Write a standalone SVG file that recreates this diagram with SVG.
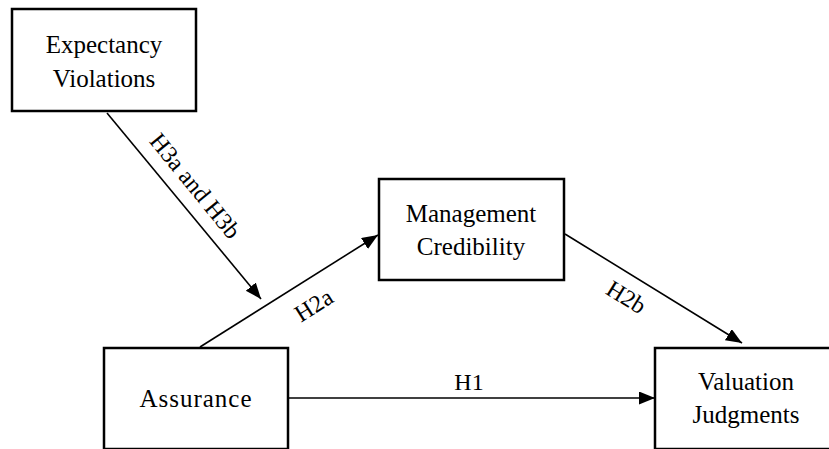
<svg xmlns="http://www.w3.org/2000/svg" width="829" height="449" viewBox="0 0 829 449">
<style>
.box{fill:#fff;stroke:#000;stroke-width:2.5}
.conn{stroke:#000;stroke-width:1.6;fill:none}
text{font-family:"Liberation Serif","Times New Roman",serif;font-size:25px;fill:#000}
.lbl{font-size:24px}
.c{text-anchor:middle}
</style>
<defs>
<marker id="arr" markerUnits="userSpaceOnUse" markerWidth="18" markerHeight="14" refX="16" refY="6.5" orient="auto">
<path d="M0,0 L16,6.5 L0,13 z" fill="#000"/>
</marker>
</defs>
<rect width="829" height="449" fill="#fff"/>
<g id="connectors">
<line class="conn" x1="107" y1="113" x2="261" y2="299" marker-end="url(#arr)"/>
<line class="conn" x1="200" y1="347" x2="378" y2="235" marker-end="url(#arr)"/>
<line class="conn" x1="565" y1="234" x2="742" y2="343" marker-end="url(#arr)"/>
<line class="conn" x1="288" y1="398" x2="655" y2="398" marker-end="url(#arr)"/>
<text class="lbl c" transform="translate(189,191) rotate(50.7)">H3a  and H3b</text>
<text class="lbl c" transform="translate(318,312) rotate(-32.2)">H2a</text>
<text class="lbl c" transform="translate(622,304) rotate(31.6)">H2b</text>
<text class="lbl c" x="469" y="390">H1</text>
</g>
<g id="expectancy">
<rect class="box" x="12" y="9" width="184" height="102"/>
<text class="c" x="104" y="53">Expectancy</text>
<text class="c" x="104" y="87">Violations</text>
</g>
<g id="management">
<rect class="box" x="379" y="179" width="185" height="101"/>
<text class="c" x="471" y="222">Management</text>
<text class="c" x="471" y="255">Credibility</text>
</g>
<g id="assurance">
<rect class="box" x="104" y="348" width="184" height="101"/>
<text class="c" x="196" y="407" letter-spacing="1">Assurance</text>
</g>
<g id="valuation">
<rect class="box" x="655" y="348" width="190" height="101"/>
<text class="c" x="746" y="390">Valuation</text>
<text class="c" x="746" y="423">Judgments</text>
</g>
</svg>
